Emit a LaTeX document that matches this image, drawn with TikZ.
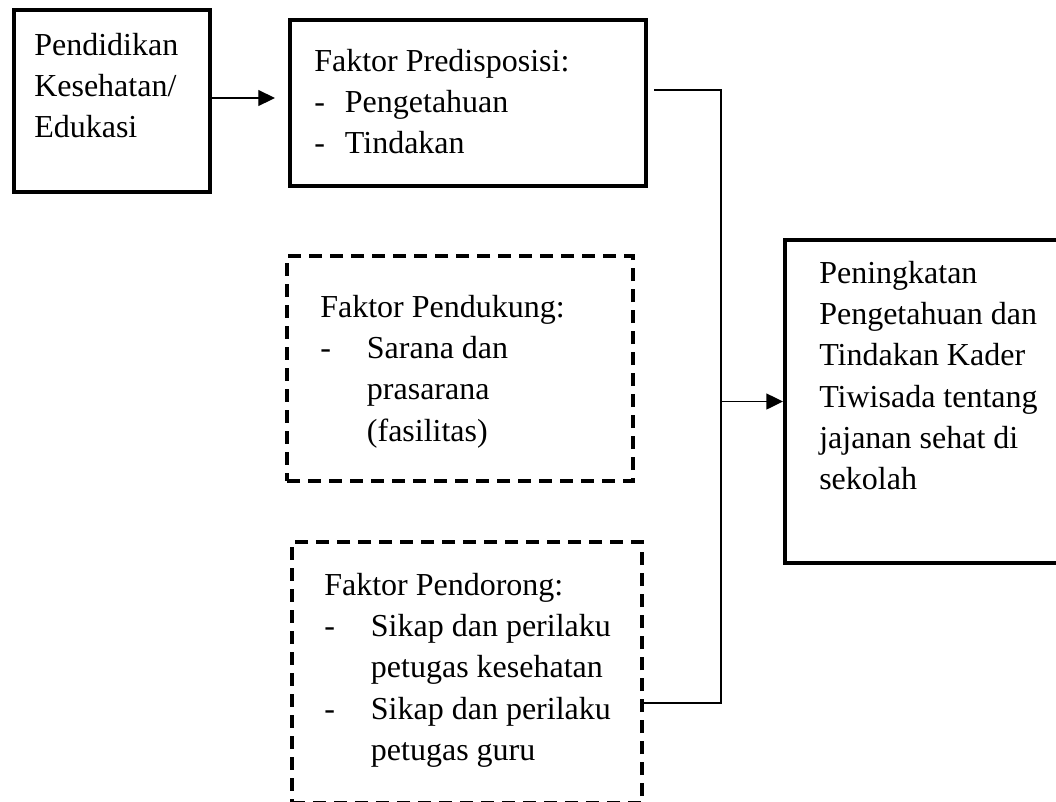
\documentclass[tikz,border=0pt]{standalone}
\usepackage{fontspec}
\setmainfont{Liberation Serif}
\usetikzlibrary{arrows.meta, fit}

\tikzset{
  solidbox/.style={draw, line width=3pt, inner sep=0pt},
  dashbox/.style={draw, line width=3pt, inner sep=0pt, dash pattern=on 9.75pt off 6pt},
  txt/.style={anchor=north west, inner sep=0pt, align=left, font=\fontsize{24}{31}\selectfont},
  conn/.style={line width=1pt},
  arr/.style={conn, -{Triangle[length=12.5pt, width=12pt]}},
}
\newcommand{\itm}[2]{\makebox[#1][l]{-}#2}

\begin{document}
\begin{tikzpicture}[x=0.75pt, y=-0.75pt]
        \useasboundingbox (0,0) rectangle (1056,801);
        \clip (0,0) rectangle (1056,801);

        % Boxes:
        \node [solidbox, fit={(13.5,10) (210,191.5)}] (pend) {};
        \node [solidbox, line width=2.6pt, fit={(290,20) (646,186)}] (predisp) {};
        \node [dashbox, fit={(287,256) (633,481)}] (dukung) {};
        \node [dashbox, fit={(292,542) (642,803)}] (dorong) {};
        \node [solidbox, fit={(785,240) (1072,563)}] (hasil) {};

        % Box texts:
        \node [txt] (pendtxt) at (34,26) {\strut Pendidikan\\ Kesehatan/\\ Edukasi};
        \node [txt] (predtxt) at (314,42)
            {\strut Faktor Predisposisi:\\ \itm{23pt}{Pengetahuan}\\ \itm{23pt}{Tindakan}};
        \node [txt] (dukungtxt) at (320,288)
            {\strut Faktor Pendukung:\\ \itm{35pt}{Sarana dan}\\
             \hspace*{35pt}prasarana\\ \hspace*{35pt}(fasilitas)};
        \node [txt] (dorongtxt) at (324,566)
            {\strut Faktor Pendorong:\\ \itm{35pt}{Sikap dan perilaku}\\
             \hspace*{35pt}petugas kesehatan\\ \itm{35pt}{Sikap dan perilaku}\\
             \hspace*{35pt}petugas guru};
        \node [txt] (hasiltxt) at (819,254)
            {\strut Peningkatan\\ Pengetahuan dan\\ Tindakan Kader\\
             Tiwisada tentang\\ jajanan sehat di\\ sekolah};

        % Connectors:
        \coordinate (busTop) at (721,90);
        \coordinate (busBot) at (721,703);
        \draw [arr, shorten >=10pt] (pend.east |- 0,98) -- (predisp.west |- 0,98);
        \draw [conn] ([xshift=5pt]predisp.east |- busTop) -- (busTop) -- (busBot)
            -- (dorong.east |- busBot);
        \draw [arr] (busTop |- hasil.west) -- (hasil.west);

    \end{tikzpicture}
\end{document}
